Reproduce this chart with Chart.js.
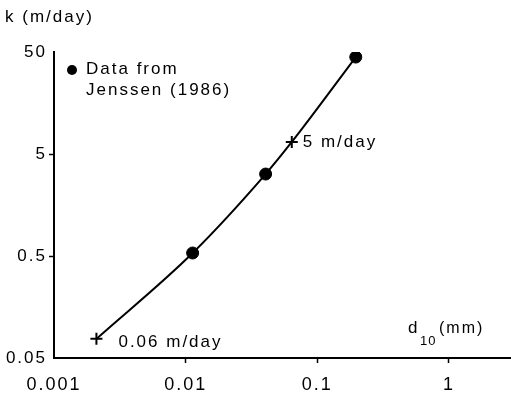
<!DOCTYPE html>
<html>
<head>
<meta charset="utf-8">
<script src="https://cdn.jsdelivr.net/npm/chart.js@4/dist/chart.umd.min.js"></script>
<style>
html,body{margin:0;padding:0;background:#fff;}
#wrap{width:511px;height:393px;}
</style>
</head>
<body>
<div id="wrap"><canvas id="chart" width="511" height="393"></canvas></div>
<script>
// data (log-log)
const curveD=[0.0021,0.0113,0.0405,0.064,0.196];
const curveK=[0.077,0.535,3.18,6.56,44.6];
const jenssenD=[0.0113,0.0405,0.196];
const jenssenK=[0.535,3.18,44.6];
const markD=[0.0021,0.064];
const markK=[0.077,6.56];
const markLabels=['0.06 m/day','5 m/day'];
const xTicks=[0.001,0.01,0.1,1];
const yTicks=[0.05,0.5,5,50];
const yTitle='k (m/day)';
const legendLines=['Data from','Jenssen (1986)'];

const FONT='"Liberation Sans", Arial, sans-serif';
const pts=(xs,ys)=>xs.map((v,i)=>({x:v,y:ys[i]}));
const hideEnds=n=>c=>(c.index===0||c.index===n-1)?'rgba(0,0,0,0)':'#000';

// extra texts: titles, legend, annotations
const textPlugin={
  id:'texts',
  beforeDraw(chart){ chart.ctx.letterSpacing='2px'; },
  afterDraw(chart){
    const {ctx,scales:{x,y},chartArea:a}=chart;
    ctx.save();
    ctx.letterSpacing='2px';
    ctx.fillStyle='#000';
    ctx.textAlign='left';
    ctx.textBaseline='alphabetic';
    ctx.font='17px '+FONT;
    ctx.fillText(yTitle,5,22);
    // legend
    ctx.beginPath(); ctx.arc(a.left+18,a.top+18,5,0,Math.PI*2); ctx.fill();
    ctx.fillText(legendLines[0],a.left+32,a.top+22);
    ctx.fillText(legendLines[1],a.left+32,a.top+43);
    // annotations next to the crosses
    ctx.fillText(markLabels[0],x.getPixelForValue(markD[0])+22,y.getPixelForValue(markK[0])+8);
    ctx.fillText(markLabels[1],x.getPixelForValue(markD[1])+11,y.getPixelForValue(markK[1])+5);
    // x title d10(mm)
    ctx.font='17px '+FONT;
    ctx.fillText('d',408,333);
    ctx.font='13px '+FONT;
    ctx.letterSpacing='1px';
    ctx.fillText('10',420,345);
    ctx.letterSpacing='2px';
    ctx.font='16px '+FONT;
    ctx.fillText('(mm)',439,333);
    ctx.restore();
  }
};

new Chart(document.getElementById('chart'),{
  type:'scatter',
  data:{datasets:[
    {data:pts(curveD,curveK),showLine:true,borderColor:'#000',borderWidth:2,pointRadius:0,cubicInterpolationMode:'monotone'},
    {data:pts(jenssenD,jenssenK),pointRadius:6,backgroundColor:'#000',borderColor:'#000'},
    {data:pts(markD,markK),pointStyle:'cross',pointRadius:6,borderWidth:2,borderColor:'#000'}
  ]},
  options:{
    responsive:false,animation:false,
    layout:{autoPadding:false,padding:{top:52,right:0,left:0,bottom:0}},
    plugins:{legend:{display:false},tooltip:{enabled:false}},
    scales:{
      x:{type:'logarithmic',min:0.001,max:2.96,
        afterBuildTicks:s=>{s.ticks=xTicks.map(v=>({value:v}));},
        afterFit:s=>{s.height=35;},
        border:{display:true,color:'#000',width:2},
        grid:{drawOnChartArea:false,drawTicks:true,tickLength:5,tickWidth:1.5,tickColor:c=>c.index===0?'rgba(0,0,0,0)':'#000'},
        ticks:{color:'#000',padding:11,font:{family:FONT,size:18},maxRotation:0,autoSkip:false,callback:v=>String(v)}
      },
      y:{type:'logarithmic',min:0.05,max:50,
        afterBuildTicks:s=>{s.ticks=yTicks.map(v=>({value:v}));},
        afterFit:s=>{s.width=54;},
        border:{display:true,color:'#000',width:2},
        grid:{drawOnChartArea:false,drawTicks:true,tickLength:5,tickWidth:1.5,tickColor:hideEnds(4)},
        ticks:{color:'#000',padding:2,font:{family:FONT,size:17},autoSkip:false,callback:v=>String(v)}
      }
    }
  },
  plugins:[textPlugin]
});
</script>
</body>
</html>
